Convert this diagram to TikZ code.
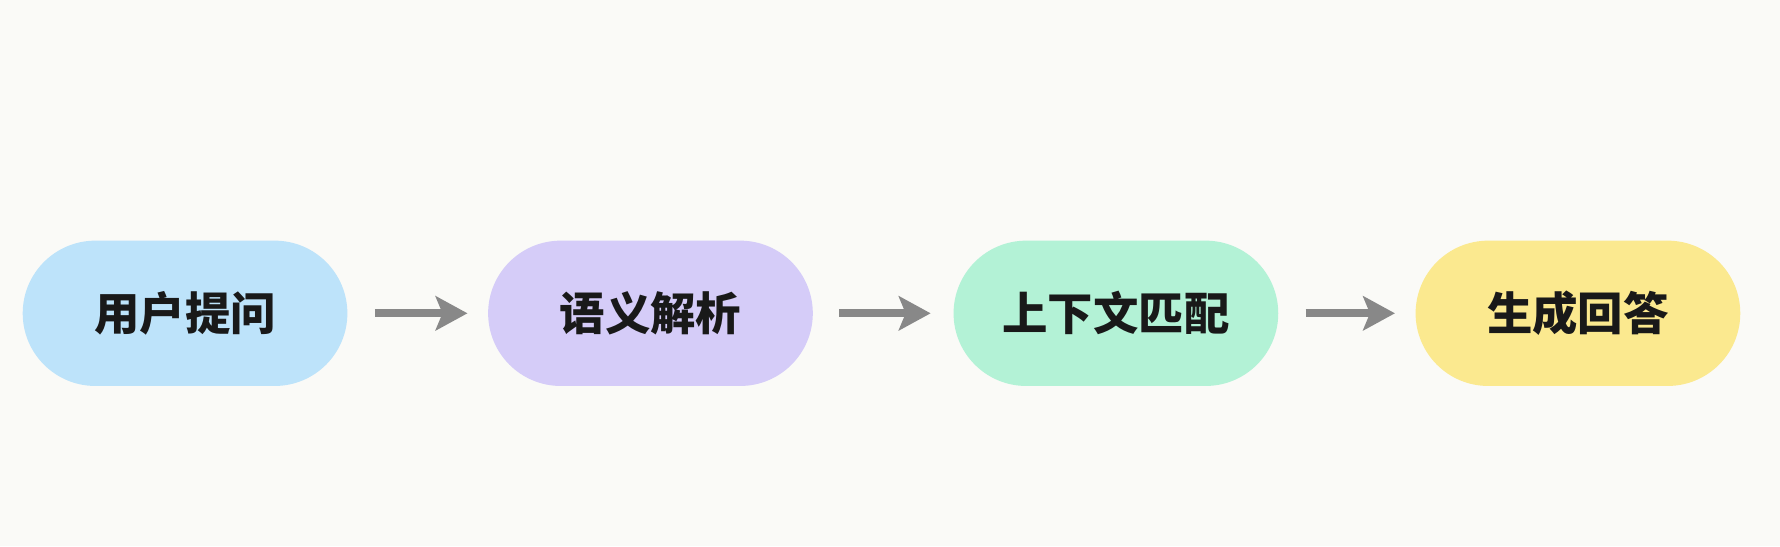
\documentclass[tikz,border=0pt]{standalone}
\usepackage{fontspec}
\newfontfamily\cjk{Noto Sans CJK SC}
\usetikzlibrary{arrows.meta}
\definecolor{bg}{HTML}{FAFAF7}
\definecolor{cA}{HTML}{BDE3FA}
\definecolor{cB}{HTML}{D5CCF8}
\definecolor{cC}{HTML}{B3F2D6}
\definecolor{cD}{HTML}{FBE98F}
\definecolor{arr}{HTML}{888888}
\tikzset{
  pill/.style={minimum width=286pt, minimum height=128pt, rounded corners=64pt, inner sep=0pt,
    font=\cjk\bfseries\fontsize{40pt}{46pt}\selectfont, text=black!90},
  flow/.style={draw=arr, line width=7pt, -{Stealth[length=28pt,width=30pt,inset=6pt]}}
}
\begin{document}
\begin{tikzpicture}[x=1pt,y=1pt]
\fill[bg] (0,0) rectangle (1568,481);
\useasboundingbox (0,0) rectangle (1568,481);
\node[pill, fill=cA] (a) at (163,205) {用户提问};
\node[pill, fill=cB] (b) at (573,205) {语义解析};
\node[pill, fill=cC] (c) at (983,205) {上下文匹配};
\node[pill, fill=cD] (d) at (1390,205) {生成回答};
\draw[flow] ([xshift=24pt]a.east) -- ([xshift=-18pt]b.west);
\draw[flow] ([xshift=23pt]b.east) -- ([xshift=-20pt]c.west);
\draw[flow] ([xshift=24pt]c.east) -- ([xshift=-18pt]d.west);
\end{tikzpicture}
\end{document}
